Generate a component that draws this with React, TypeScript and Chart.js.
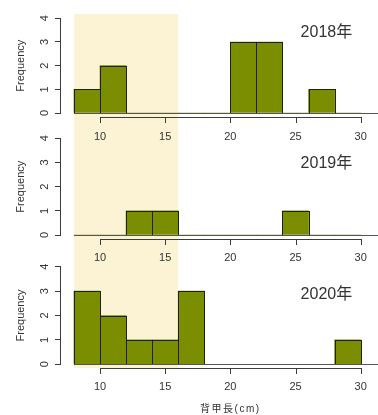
import { useEffect, useRef } from "react";
import { Chart, registerables } from "chart.js";

Chart.register(...registerables);

// ---- data ----
const binEdges = [8, 10, 12, 14, 16, 18, 20, 22, 24, 26, 28, 30];
const yearLabels = ["2018年", "2019年", "2020年"];
const counts2018 = [1, 2, 0, 0, 0, 0, 3, 3, 0, 1, 0];
const counts2019 = [0, 0, 1, 1, 0, 0, 0, 0, 1, 0, 0];
const counts2020 = [3, 2, 1, 1, 3, 0, 0, 0, 0, 0, 1];
const xTickValues = [10, 15, 20, 25, 30];
const yTickValues = [0, 1, 2, 3, 4];
const highlightRange = [8, 16];
const xAxisTitle = "背甲長(cm)";
const yAxisTitle = "Frequency";

const seriesCounts = [counts2018, counts2019, counts2020];

// ---- styles / layout ----
const BAR = "#7b8d00";
const BAR_EDGE = "#1e2208";
const AXIS = "#3c3c3c";
const TEXT = "#333333";
const SHADE = "#fcf2d4";
const FONT = '"Liberation Sans", Arial, "Noto Sans CJK JP", sans-serif';
const X_MIN = 6.93;
const X_MAX = 31.33;

const panelLayouts = [
  { top: 0, height: 146, areaTop: 18.3, areaBottom: 113, shadeTop: 14, shadeBottom: 142, titleY: 3.38, tickPad: 17, xTitle: false },
  { top: 126, height: 150, areaTop: 12.3, areaBottom: 109, shadeTop: 16, shadeBottom: 137, titleY: 2.97, tickPad: 16, xTitle: false },
  { top: 256, height: 159, areaTop: 10.7, areaBottom: 108.3, shadeTop: 7, shadeBottom: 112, titleY: 2.87, tickPad: 16, xTitle: true },
];
const TITLE_X = 27.37;

function makeDecor(idx: number) {
  const L = panelLayouts[idx];
  return {
    id: "decor" + idx,
    beforeDraw(chart: any) {
      const ctx = chart.ctx;
      const xs = chart.scales.x;
      const x0 = xs.getPixelForValue(highlightRange[0]);
      const x1 = xs.getPixelForValue(highlightRange[1]);
      ctx.save();
      ctx.fillStyle = SHADE;
      ctx.fillRect(x0, L.shadeTop, x1 - x0, L.shadeBottom - L.shadeTop);
      ctx.restore();
    },
    afterDraw(chart: any) {
      const ctx = chart.ctx;
      const xs = chart.scales.x;
      const ys = chart.scales.y;
      const area = chart.chartArea;
      ctx.save();
      // bar outlines
      ctx.strokeStyle = BAR_EDGE;
      ctx.lineWidth = 1;
      const meta = chart.getDatasetMeta(0);
      meta.data.forEach((el: any) => {
        const p = el.getProps(["x", "y", "base", "width"], true);
        if (p.base - p.y < 0.5) return;
        const l = Math.round(p.x - p.width / 2);
        const r = Math.round(p.x + p.width / 2);
        const t = Math.round(p.y);
        const b = Math.round(p.base);
        ctx.strokeRect(l + 0.5, t + 0.5, r - l, b - t);
      });
      // baseline
      const yb = Math.round(ys.getPixelForValue(0));
      ctx.fillStyle = "#555555";
      const bx0 = Math.round(xs.getPixelForValue(binEdges[0]));
      ctx.fillRect(bx0, yb, area.right - bx0, 1);
      // R-style x axis
      const ya = yb + 4;
      const xa0 = Math.round(xs.getPixelForValue(xTickValues[0]));
      const xa1 = Math.round(xs.getPixelForValue(xTickValues[xTickValues.length - 1]));
      ctx.fillStyle = AXIS;
      ctx.fillRect(xa0, ya, xa1 - xa0 + 1, 1);
      for (const v of xTickValues) {
        const px = Math.round(xs.getPixelForValue(v));
        ctx.fillRect(px, ya, 1, 6);
      }
      // year title
      ctx.fillStyle = TEXT;
      ctx.font = "16px " + FONT;
      ctx.textAlign = "center";
      ctx.textBaseline = "middle";
      ctx.fillText(yearLabels[idx], xs.getPixelForValue(TITLE_X), ys.getPixelForValue(L.titleY));
      // x axis title
      if (L.xTitle) {
        ctx.font = "10px " + FONT;
        (ctx as any).letterSpacing = "1.5px";
        ctx.fillText(xAxisTitle, xs.getPixelForValue((xTickValues[0] + xTickValues[xTickValues.length - 1]) / 2), chart.height - 6);
      }
      ctx.restore();
    },
  };
}

function buildConfig(idx: number): any {
  const L = panelLayouts[idx];
  const counts = seriesCounts[idx];
  const points = counts.map((c, i) => ({ x: (binEdges[i] + binEdges[i + 1]) / 2, y: c }));
  return {
    type: "bar",
    data: {
      datasets: [
        {
          data: points,
          backgroundColor: BAR,
          borderWidth: 0,
          barPercentage: 1,
          categoryPercentage: 1,
        },
      ],
    },
    options: {
      animation: false,
      responsive: false,
      maintainAspectRatio: false,
      events: [],
      layout: { autoPadding: false, padding: { top: L.areaTop, left: 0, right: 0, bottom: 0 } },
      plugins: { legend: { display: false }, tooltip: { enabled: false }, title: { display: false } },
      scales: {
        x: {
          type: "linear",
          min: X_MIN,
          max: X_MAX,
          offset: false,
          afterBuildTicks: (s: any) => {
            s.ticks = xTickValues.map((v) => ({ value: v }));
          },
          afterFit: (s: any) => {
            s.height = L.height - L.areaBottom;
            s.paddingLeft = 0;
            s.paddingRight = 0;
            s.paddingTop = 0;
            s.paddingBottom = 0;
          },
          grid: { display: false, drawTicks: false, tickLength: 0 },
          border: { display: false },
          ticks: { padding: L.tickPad, color: TEXT, font: { family: FONT, size: 11 }, maxRotation: 0, autoSkip: false },
        },
        y: {
          type: "linear",
          min: 0,
          max: 4,
          afterBuildTicks: (s: any) => {
            s.ticks = yTickValues.map((v) => ({ value: v }));
          },
          afterFit: (s: any) => {
            s.width = 60;
            s.paddingLeft = 0;
            s.paddingRight = 0;
            s.paddingTop = 0;
            s.paddingBottom = 0;
          },
          grid: { drawOnChartArea: false, drawTicks: true, tickLength: 5, color: AXIS, lineWidth: 1 },
          border: { display: true, color: AXIS, width: 1 },
          ticks: {
            minRotation: 90,
            maxRotation: 90,
            crossAlign: "center",
            padding: 7,
            color: TEXT,
            font: { family: FONT, size: 11 },
          },
          title: {
            display: true,
            text: yAxisTitle,
            color: TEXT,
            font: { family: FONT, size: 11 },
            padding: { top: 14.5, bottom: 0 },
          },
        },
      },
    },
    plugins: [makeDecor(idx)],
  };
}

export default function App() {
  const r0 = useRef<HTMLCanvasElement | null>(null);
  const r1 = useRef<HTMLCanvasElement | null>(null);
  const r2 = useRef<HTMLCanvasElement | null>(null);

  useEffect(() => {
    const refs = [r0, r1, r2];
    const charts = refs.map((r, i) => new Chart(r.current as HTMLCanvasElement, buildConfig(i)));
    return () => charts.forEach((c) => c.destroy());
  }, []);

  const refs = [r0, r1, r2];
  return (
    <div style={{ position: "absolute", left: 0, top: 0, width: 378, height: 415, background: "#ffffff", overflow: "hidden" }}>
      {panelLayouts.map((L, i) => (
        <canvas
          key={i}
          ref={refs[i]}
          width={378}
          height={L.height}
          style={{ position: "absolute", left: 0, top: L.top, width: 378, height: L.height, display: "block" }}
        />
      ))}
    </div>
  );
}
